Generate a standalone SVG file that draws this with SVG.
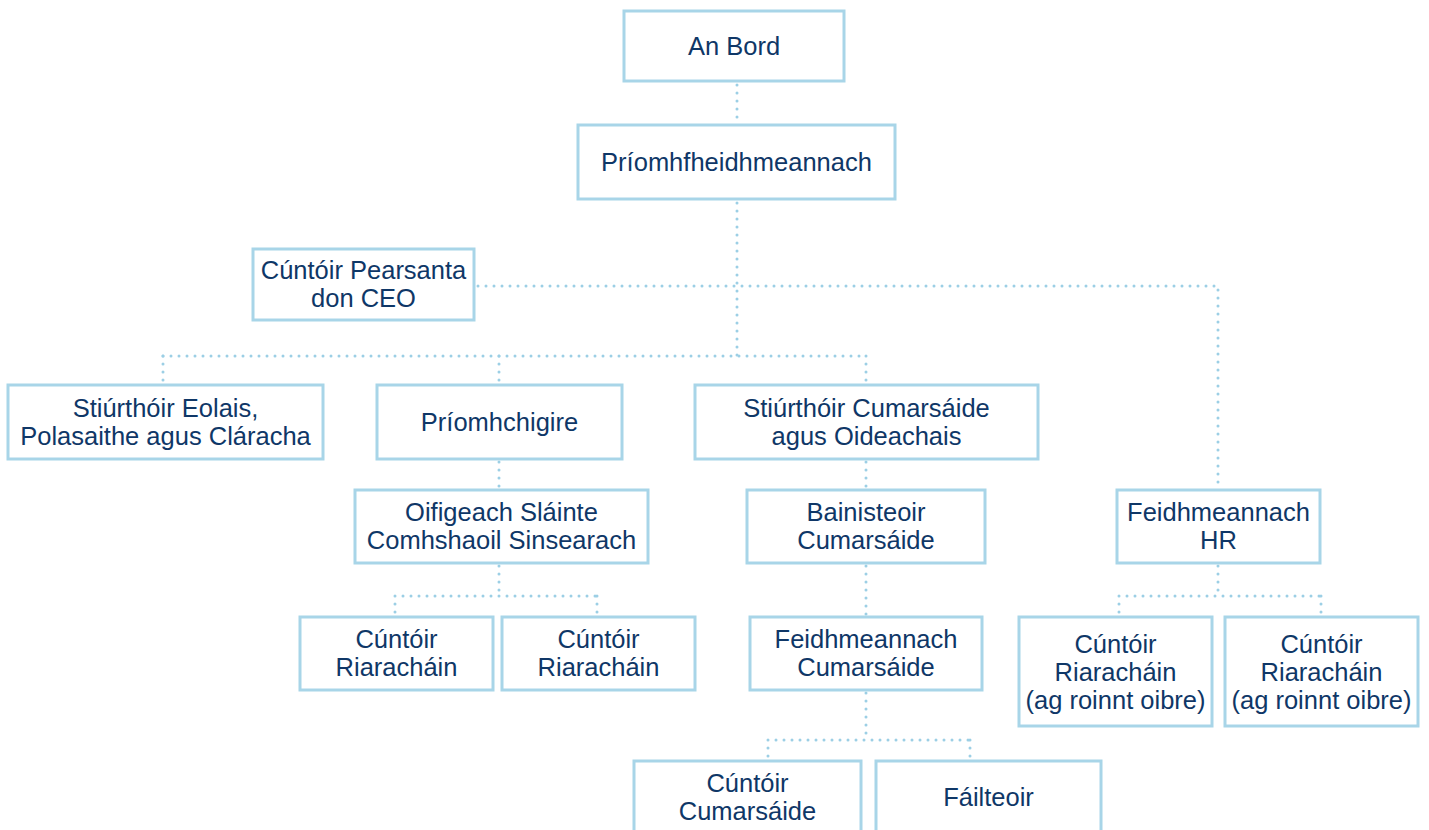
<svg xmlns="http://www.w3.org/2000/svg" width="1429" height="830" viewBox="0 0 1429 830">
<style>
.box{fill:#fff;stroke:#a8d5e8;stroke-width:3}
.t{font-family:"Liberation Sans",Arial,sans-serif;font-size:25.5px;fill:#0f3767;text-anchor:middle}
.c{fill:none;stroke:#9ccfe5;stroke-width:3;stroke-dasharray:0 8;stroke-linecap:round}
</style>
<rect width="1429" height="830" fill="#fff"/>
<g id="connectors">
<path class="c" d="M737 85V125"/>
<path class="c" d="M737 203V356"/>
<path class="c" d="M478 286H1218V490"/>
<path class="c" d="M163 356H866"/>
<path class="c" d="M163 356V385M499 356V385M866 356V385"/>
<path class="c" d="M499 462V490"/>
<path class="c" d="M499 566V596M395 596H597M395 596V617M597 596V617"/>
<path class="c" d="M866 462V490"/>
<path class="c" d="M866 566V617"/>
<path class="c" d="M866 693V740M768 740H970M768 740V761M970 740V761"/>
<path class="c" d="M1218 566V596M1119 596H1321M1119 596V617M1321 596V617"/>
</g>
<g id="n-anbord"><rect class="box" x="624" y="11" width="220" height="70"/><text class="t" x="734" y="55">An Bord</text></g>
<g id="n-ceo"><rect class="box" x="578" y="125" width="317" height="74"/><text class="t" x="736.5" y="171">Príomhfheidhmeannach</text></g>
<g id="n-pa"><rect class="box" x="253" y="249" width="221" height="71"/><text class="t" x="363.5" y="279">Cúntóir Pearsanta</text><text class="t" x="363.5" y="307">don CEO</text></g>
<g id="n-eolais"><rect class="box" x="8" y="385" width="315" height="74"/><text class="t" x="165.5" y="417">Stiúrthóir Eolais,</text><text class="t" x="165.5" y="445">Polasaithe agus Cláracha</text></g>
<g id="n-chigire"><rect class="box" x="377" y="385" width="245" height="74"/><text class="t" x="499.5" y="431">Príomhchigire</text></g>
<g id="n-cumoid"><rect class="box" x="695" y="385" width="343" height="74"/><text class="t" x="866.5" y="417">Stiúrthóir Cumarsáide</text><text class="t" x="866.5" y="445">agus Oideachais</text></g>
<g id="n-oifigeach"><rect class="box" x="355" y="490" width="293" height="73"/><text class="t" x="501.5" y="521">Oifigeach Sláinte</text><text class="t" x="501.5" y="549">Comhshaoil Sinsearach</text></g>
<g id="n-cr1"><rect class="box" x="300" y="617" width="193" height="73"/><text class="t" x="396.5" y="648">Cúntóir</text><text class="t" x="396.5" y="676">Riaracháin</text></g>
<g id="n-cr2"><rect class="box" x="502" y="617" width="193" height="73"/><text class="t" x="598.5" y="648">Cúntóir</text><text class="t" x="598.5" y="676">Riaracháin</text></g>
<g id="n-bainisteoir"><rect class="box" x="747" y="490" width="238" height="73"/><text class="t" x="866" y="521">Bainisteoir</text><text class="t" x="866" y="549">Cumarsáide</text></g>
<g id="n-feidhcum"><rect class="box" x="750" y="617" width="232" height="73"/><text class="t" x="866" y="648">Feidhmeannach</text><text class="t" x="866" y="676">Cumarsáide</text></g>
<g id="n-cuntcum"><rect class="box" x="634" y="761" width="227" height="90"/><text class="t" x="747.5" y="792">Cúntóir</text><text class="t" x="747.5" y="820">Cumarsáide</text></g>
<g id="n-failteoir"><rect class="box" x="876" y="761" width="225" height="90"/><text class="t" x="988.5" y="806">Fáilteoir</text></g>
<g id="n-hr"><rect class="box" x="1117" y="490" width="203" height="73"/><text class="t" x="1218.5" y="521">Feidhmeannach</text><text class="t" x="1218.5" y="549">HR</text></g>
<g id="n-crhr1"><rect class="box" x="1019" y="617" width="193" height="109"/><text class="t" x="1115.5" y="653">Cúntóir</text><text class="t" x="1115.5" y="681">Riaracháin</text><text class="t" x="1115.5" y="709">(ag roinnt oibre)</text></g>
<g id="n-crhr2"><rect class="box" x="1225" y="617" width="193" height="109"/><text class="t" x="1321.5" y="653">Cúntóir</text><text class="t" x="1321.5" y="681">Riaracháin</text><text class="t" x="1321.5" y="709">(ag roinnt oibre)</text></g>
</svg>
